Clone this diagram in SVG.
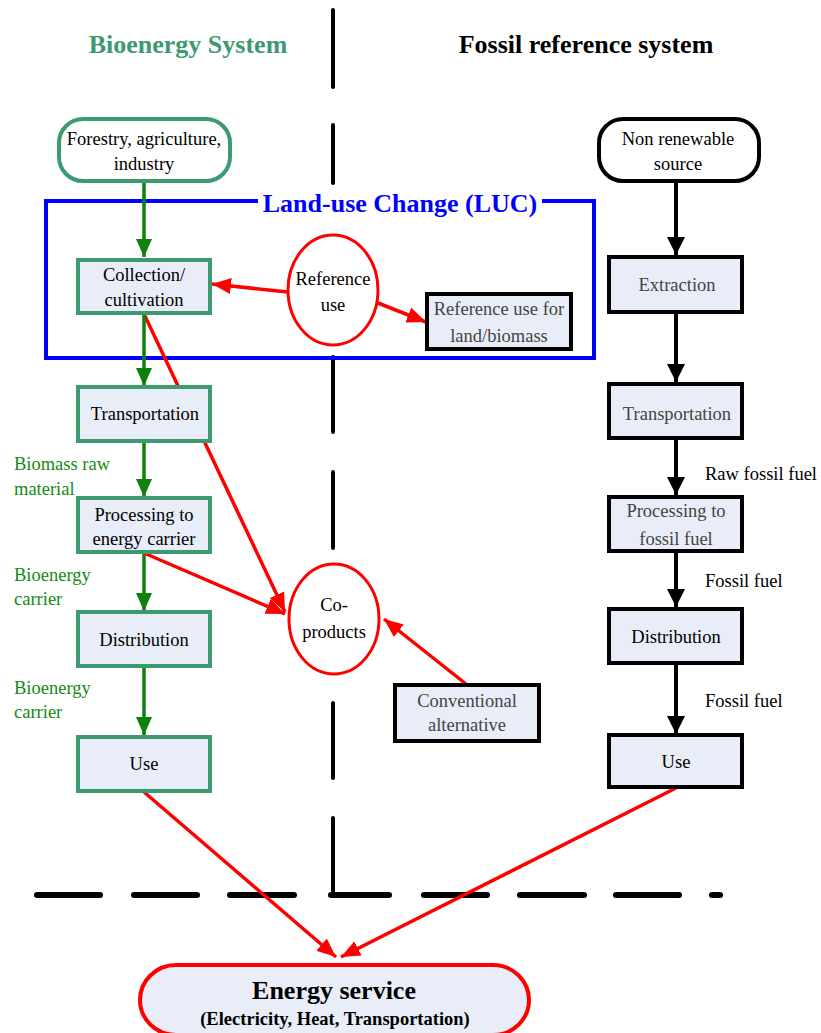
<svg xmlns="http://www.w3.org/2000/svg" width="821" height="1033" viewBox="0 0 821 1033">
<style>
text{font-family:"Liberation Serif","Times New Roman",serif;}
.t{font-size:18.5px;text-anchor:middle;fill:#000;}
.g{fill:#444;}
.title{font-size:26px;font-weight:bold;text-anchor:middle;}
.lbl{font-size:18.5px;fill:#138a13;}
.flbl{font-size:18.5px;fill:#000;}
.bio{fill:#e8edf8;stroke:#3d9970;stroke-width:4;}
.fos{fill:#e8edf8;stroke:#000;stroke-width:4;}
.rc{fill:#fff;stroke:#f00;stroke-width:3;}
.ga{stroke:#0b820b;stroke-width:3.5;fill:none;}
.ba{stroke:#000;stroke-width:4;fill:none;}
.ra{stroke:#f00;stroke-width:3.5;fill:none;}
.dv{stroke:#000;stroke-width:4;stroke-linecap:round;}
.dh{stroke:#000;stroke-width:6;stroke-linecap:round;}
</style>
<defs>
<marker id="mg" markerUnits="userSpaceOnUse" markerWidth="18" markerHeight="16" refX="18" refY="8" orient="auto"><path d="M0,0 L18,8 L0,16 z" fill="#0b820b"/></marker>
<marker id="mb" markerUnits="userSpaceOnUse" markerWidth="18" markerHeight="18" refX="18" refY="9" orient="auto"><path d="M0,0 L18,9 L0,18 z" fill="#000"/></marker>
<marker id="mr" markerUnits="userSpaceOnUse" markerWidth="19" markerHeight="16" refX="19" refY="8" orient="auto"><path d="M0,0 L19,8 L0,16 z" fill="#f00"/></marker>
</defs>
<rect width="821" height="1033" fill="#fff"/>

<g id="dividers">
<line class="dv" x1="333" y1="10" x2="333" y2="87"/>
<line class="dv" x1="333" y1="125" x2="333" y2="183"/>
<line class="dv" x1="333" y1="357" x2="333" y2="432"/>
<line class="dv" x1="333" y1="472" x2="333" y2="548"/>
<line class="dv" x1="333" y1="703" x2="333" y2="778"/>
<line class="dv" x1="333" y1="818" x2="333" y2="895"/>
<line class="dh" x1="37" y1="895" x2="100" y2="895"/>
<line class="dh" x1="134" y1="895" x2="197" y2="895"/>
<line class="dh" x1="230" y1="895" x2="294" y2="895"/>
<line class="dh" x1="331" y1="895" x2="389" y2="895"/>
<line class="dh" x1="424" y1="895" x2="487" y2="895"/>
<line class="dh" x1="520" y1="895" x2="584" y2="895"/>
<line class="dh" x1="616" y1="895" x2="679" y2="895"/>
<line class="dh" x1="712" y1="895" x2="720" y2="895"/>
</g>

<text class="title" x="188" y="53" fill="#3d9970">Bioenergy System</text>
<text class="title" x="586" y="53" fill="#000">Fossil reference system</text>

<g id="luc">
<path d="M258,201 L46,201 L46,358 L594,358 L594,201 L542,201" fill="none" stroke="#0000ff" stroke-width="4"/>
<text class="title" x="400" y="212" fill="#0000ff">Land-use Change (LUC)</text>
</g>

<g id="connectors">
<line class="ra" x1="144" y1="314" x2="285" y2="612" marker-end="url(#mr)"/>
<line class="ga" x1="144" y1="182" x2="144" y2="257" marker-end="url(#mg)"/>
<line class="ga" x1="144" y1="314" x2="144" y2="386" marker-end="url(#mg)"/>
<line class="ga" x1="144" y1="442" x2="144" y2="497" marker-end="url(#mg)"/>
<line class="ga" x1="144" y1="553" x2="144" y2="611" marker-end="url(#mg)"/>
<line class="ga" x1="144" y1="667" x2="144" y2="735" marker-end="url(#mg)"/>
<line class="ba" x1="676" y1="182" x2="676" y2="255" marker-end="url(#mb)"/>
<line class="ba" x1="676" y1="313" x2="676" y2="382" marker-end="url(#mb)"/>
<line class="ba" x1="676" y1="439" x2="676" y2="495" marker-end="url(#mb)"/>
<line class="ba" x1="676" y1="552" x2="676" y2="607" marker-end="url(#mb)"/>
<line class="ba" x1="676" y1="664" x2="676" y2="734" marker-end="url(#mb)"/>
<line class="ra" x1="288" y1="292" x2="212" y2="284" marker-end="url(#mr)"/>
<line class="ra" x1="378" y1="303" x2="426" y2="322" marker-end="url(#mr)"/>
<line class="ra" x1="144" y1="553" x2="285" y2="614" marker-end="url(#mr)"/>
<line class="ra" x1="466" y1="684" x2="384" y2="619" marker-end="url(#mr)"/>
<line class="ra" x1="144" y1="792" x2="336" y2="957" marker-end="url(#mr)"/>
<line class="ra" x1="676" y1="788" x2="341" y2="957" marker-end="url(#mr)"/>
</g>

<g id="forestry">
<rect x="59" y="119" width="171" height="62" rx="24" ry="24" fill="#fff" stroke="#3d9970" stroke-width="4"/>
<text class="t" x="144" y="145">Forestry, agriculture,</text>
<text class="t" x="144" y="170">industry</text>
</g>
<g id="nonrenewable">
<rect x="599" y="119" width="160" height="62" rx="24" ry="24" fill="#fff" stroke="#000" stroke-width="4"/>
<text class="t" x="678" y="145">Non renewable</text>
<text class="t" x="678" y="170">source</text>
</g>

<g id="collection">
<rect class="bio" x="78" y="260" width="132" height="53"/>
<text class="t" x="144" y="281">Collection/</text>
<text class="t" x="144" y="306">cultivation</text>
</g>
<g id="refuse">
<ellipse class="rc" cx="333" cy="290" rx="45" ry="55"/>
<text class="t" x="333" y="285">Reference</text>
<text class="t" x="333" y="311">use</text>
</g>
<g id="refland">
<rect class="fos" x="427" y="294" width="144" height="55" stroke-width="3.5"/>
<text class="t g" x="499" y="315">Reference use for</text>
<text class="t g" x="499" y="342">land/biomass</text>
</g>

<g id="transport-bio">
<rect class="bio" x="78" y="387" width="132" height="54"/>
<text class="t" x="145" y="420">Transportation</text>
</g>
<g id="processing-bio">
<rect class="bio" x="78" y="498" width="132" height="54"/>
<text class="t" x="144" y="521">Processing to</text>
<text class="t" x="144" y="545">energy carrier</text>
</g>
<g id="distribution-bio">
<rect class="bio" x="78" y="612" width="132" height="54"/>
<text class="t" x="144" y="646">Distribution</text>
</g>
<g id="use-bio">
<rect class="bio" x="78" y="737" width="132" height="54"/>
<text class="t" x="144" y="770">Use</text>
</g>

<text class="lbl" x="14" y="470">Biomass raw</text>
<text class="lbl" x="14" y="495">material</text>
<text class="lbl" x="14" y="581">Bioenergy</text>
<text class="lbl" x="14" y="605">carrier</text>
<text class="lbl" x="14" y="694">Bioenergy</text>
<text class="lbl" x="14" y="718">carrier</text>

<g id="coproducts">
<ellipse class="rc" cx="334" cy="619" rx="45" ry="55"/>
<text class="t" x="334" y="611">Co-</text>
<text class="t" x="334" y="638">products</text>
</g>
<g id="conventional">
<rect class="fos" x="395" y="685" width="144" height="56" stroke-width="3.5"/>
<text class="t g" x="467" y="707">Conventional</text>
<text class="t g" x="467" y="731">alternative</text>
</g>

<g id="extraction">
<rect class="fos" x="609" y="257" width="133" height="55"/>
<text class="t g" x="677" y="291">Extraction</text>
</g>
<g id="transport-fos">
<rect class="fos" x="609" y="384" width="133" height="54"/>
<text class="t g" x="677" y="420">Transportation</text>
</g>
<g id="processing-fos">
<rect class="fos" x="609" y="497" width="133" height="54"/>
<text class="t g" x="676" y="517">Processing to</text>
<text class="t g" x="676" y="545">fossil fuel</text>
</g>
<g id="distribution-fos">
<rect class="fos" x="609" y="609" width="133" height="54"/>
<text class="t" x="676" y="643">Distribution</text>
</g>
<g id="use-fos">
<rect class="fos" x="609" y="735" width="133" height="52"/>
<text class="t" x="676" y="768">Use</text>
</g>

<text class="flbl" x="705" y="480">Raw fossil fuel</text>
<text class="flbl" x="705" y="587">Fossil fuel</text>
<text class="flbl" x="705" y="707">Fossil fuel</text>

<g id="energyservice">
<rect x="140" y="965" width="389" height="70" rx="36" ry="36" fill="#e8edf8" stroke="#f00" stroke-width="4"/>
<text x="334" y="999" font-size="26" font-weight="bold" text-anchor="middle">Energy service</text>
<text x="335" y="1025" font-size="18.5" font-weight="bold" text-anchor="middle">(Electricity, Heat, Transportation)</text>
</g>
</svg>
